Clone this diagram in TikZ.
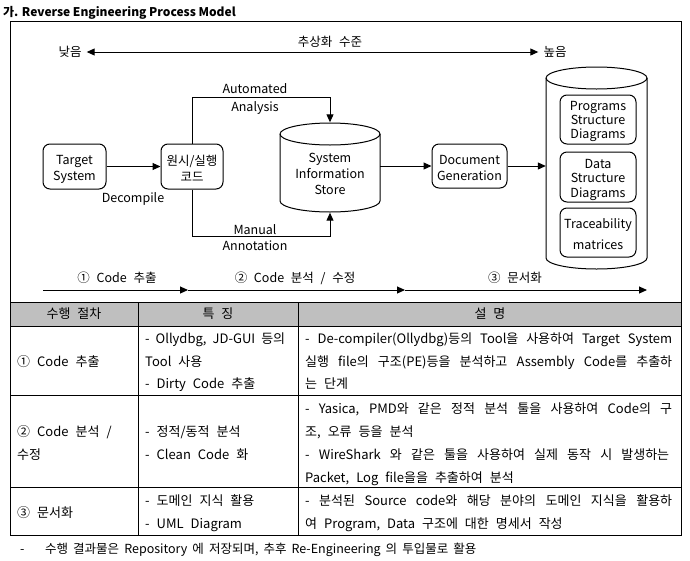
\documentclass[tikz,border=0pt]{standalone}
\usepackage{fontspec}
\setmainfont[WordSpace=2.4]{Noto Sans CJK KR}
\newfontfamily\fnfont[WordSpace=1.8]{Noto Sans CJK KR}
\usetikzlibrary{arrows.meta,calc}
\begin{document}
\begin{tikzpicture}[x=1pt,y=-1pt,
  every node/.style={font=\fontsize{12.5}{16}\selectfont},
  box/.style={draw, rounded corners=7pt, line width=1pt, inner sep=0pt},
  arr/.style={line width=1pt, -{Triangle[length=8pt,width=7pt]}},
  darr/.style={line width=1pt, {Triangle[length=8pt,width=7pt]}-{Triangle[length=8pt,width=7pt]}},
  cyl/.style={line width=1pt},
  lbl/.style={inner sep=0pt, align=center},
  txt/.style={anchor=base west, inner sep=0pt, font=\fontsize{13}{15}\selectfont},
  ctxt/.style={anchor=base, inner sep=0pt, font=\fontsize{13}{15}\selectfont},
  grid/.style={line width=0.8pt}]
\useasboundingbox (0,0) rectangle (690,560);

% title
\node[anchor=base west, inner sep=0pt, font=\bfseries\fontsize{12}{14}\selectfont] (title) at (3,16) {\spaceskip=2.6pt\relax 가. Reverse Engineering Process Model};

% abstraction level arrow
\node[lbl] (low) at (70,52) {낮음};
\node[lbl] (high) at (555,52) {높음};
\node[lbl] (abs) at (330,42) {추상화 수준};
\draw[darr] ($(low.east)+(5,0)$) -- ($(high.west)+(-5,0)$);

% boxes
\node[box, minimum width=63pt, minimum height=45pt] (target) at (74.5,166.5) {};
\node[lbl] (targett) at ($(target.center)+(0,2.5)$) {Target\\System};
\node[box, minimum width=62pt, minimum height=45pt] (orig) at (192,166.5) {};
\node[lbl] (origt) at ($(orig.center)+(0,1.5)$) {원시/실행\\코드};
\node[box, minimum width=75pt, minimum height=44pt] (docgen) at (469.5,166) {};
\node[lbl] (docgent) at ($(docgen.center)+(0,1.5)$) {Document\\Generation};

% System information store cylinder
\node[inner sep=0pt, minimum width=100pt, minimum height=90pt] (sis) at (330,167.5) {};
\node[lbl] (sist) at (330,174) {System\\Information\\Store};
\draw[cyl] (280,134) arc[start angle=180, end angle=-180, x radius=50, y radius=11];
\draw[cyl] (280,134) -- (280,201) arc[start angle=180, end angle=360, x radius=50, y radius=-11] -- (380,134);

% right repository cylinder
\node[inner sep=0pt, minimum width=101pt, minimum height=202pt] (repo) at (596.5,168) {};
\draw[cyl] (546,78) arc[start angle=180, end angle=-180, x radius=50.5, y radius=11];
\draw[cyl] (546,78) -- (546,258) arc[start angle=180, end angle=360, x radius=50.5, y radius=-11] -- (647,78);

\node[box, minimum width=76pt, minimum height=49pt] (psd) at (598,119.5) {};
\node[lbl, font=\fontsize{12.5}{14}\selectfont] (psdt) at ($(psd.center)+(0,2)$) {Programs\\Structure\\Diagrams};
\node[box, minimum width=76pt, minimum height=50pt] (dsd) at (598,177) {};
\node[lbl, font=\fontsize{12.5}{14.5}\selectfont] (dsdt) at ($(dsd.center)+(0,2.5)$) {Data\\Structure\\Diagrams};
\node[box, minimum width=76pt, minimum height=49pt] (trm) at (598,232.5) {};
\node[lbl, font=\fontsize{12.5}{21}\selectfont] (trmt) at ($(trm.center)+(0,1.5)$) {Traceability\\matrices};

% connectors
\draw[arr] (target.east) -- (orig.west);
\node[lbl] (decomp) at (133,199) {Decompile};
\draw[arr] (orig.north) |- (330,97) -- (sis.north);
\draw[arr] (orig.south) |- (330,236) -- (sis.south);
\node[lbl, font=\fontsize{12.5}{18}\selectfont] (auto) at (255,98.5) {Automated\\Analysis};
\node[lbl, font=\fontsize{12.5}{16}\selectfont] (manual) at (255,238) {Manual\\Annotation};
\draw[arr] (sis.east |- docgen.west) -- (docgen.west);
\draw[arr] (docgen.east) -- (repo.west |- docgen.east);

% phase arrows
\coordinate (p0) at (43,290);
\coordinate (p1) at (188,290);
\coordinate (p2) at (405,290);
\coordinate (p3) at (647,290);
\draw[arr] (p0) -- (p1);
\draw[arr] (p1) -- (p2);
\draw[arr] (p2) -- (p3);
\node[lbl] (ph1) at (117,278) {① Code 추출};
\node[lbl] (ph2) at (295,278) {② Code 분석 / 수정};
\node[lbl] (ph3) at (515,278) {③ 문서화};

% table frame
\fill[gray!50] (10,302) rectangle (681,326);
\draw[grid] (10,21) rectangle (681,535);
\draw[grid] (10,302) -- (681,302);
\draw[grid] (10,326) -- (681,326);
\draw[grid] (10,395) -- (681,395);
\draw[grid] (10,487) -- (681,487);
\draw[grid] (138,302) -- (138,535);
\draw[grid] (298,302) -- (298,535);

% header
\node[ctxt] (h1) at (74,318) {수행 절차};
\node[ctxt] (h2) at (218,318) {특 징};
\node[ctxt] (h3) at (490,318) {설 명};

% row 1
\node[txt] (r1a) at (17,366) {① Code 추출};
\node[txt] (r1b1) at (145,343) {\makebox[140pt][s]{- Ollydbg, JD-GUI 등의}};
\node[txt] (r1b2) at (145,366) {Tool 사용};
\node[txt] (r1b3) at (145,388) {- Dirty Code 추출};
\node[txt] (r1c1) at (305,343) {\makebox[367pt][s]{- De-compiler(Ollydbg)등의 Tool을 사용하여 Target System}};
\node[txt] (r1c2) at (305,366) {\makebox[367pt][s]{실행 file의 구조(PE)등을 분석하고 Assembly Code를 추출하}};
\node[txt] (r1c3) at (305,388) {는 단계};

% row 2
\node[txt] (r2a1) at (17,436) {② Code 분석 /};
\node[txt] (r2a2) at (17,459) {수정};
\node[txt] (r2b1) at (145,436) {- 정적/동적 분석};
\node[txt] (r2b2) at (145,459) {- Clean Code 화};
\node[txt] (r2c1) at (305,413) {\makebox[367pt][s]{- Yasica, PMD와 같은 정적 분석 툴을 사용하여 Code의 구}};
\node[txt] (r2c2) at (305,436) {조, 오류 등을 분석};
\node[txt] (r2c3) at (305,459) {\makebox[364pt][s]{- WireShark 와 같은 툴을 사용하여 실제 동작 시 발생하는}};
\node[txt] (r2c4) at (305,482) {Packet, Log file을을 추출하여 분석};

% row 3
\node[txt] (r3a) at (17,517) {③ 문서화};
\node[txt] (r3b1) at (145,505) {- 도메인 지식 활용};
\node[txt] (r3b2) at (145,528) {- UML Diagram};
\node[txt] (r3c1) at (305,505) {\makebox[367pt][s]{- 분석된 Source code와 해당 분야의 도메인 지식을 활용하}};
\node[txt] (r3c2) at (305,528) {여 Program, Data 구조에 대한 명세서 작성};

% footnote
\node[txt, font=\fnfont\fontsize{12.5}{15}\selectfont] (fn0) at (20,553) {-};
\node[txt, font=\fnfont\fontsize{12.5}{15}\selectfont] (fn1) at (45,553) {수행 결과물은 Repository 에 저장되며, 추후 Re-Engineering 의 투입물로 활용};
\end{tikzpicture}
\end{document}
